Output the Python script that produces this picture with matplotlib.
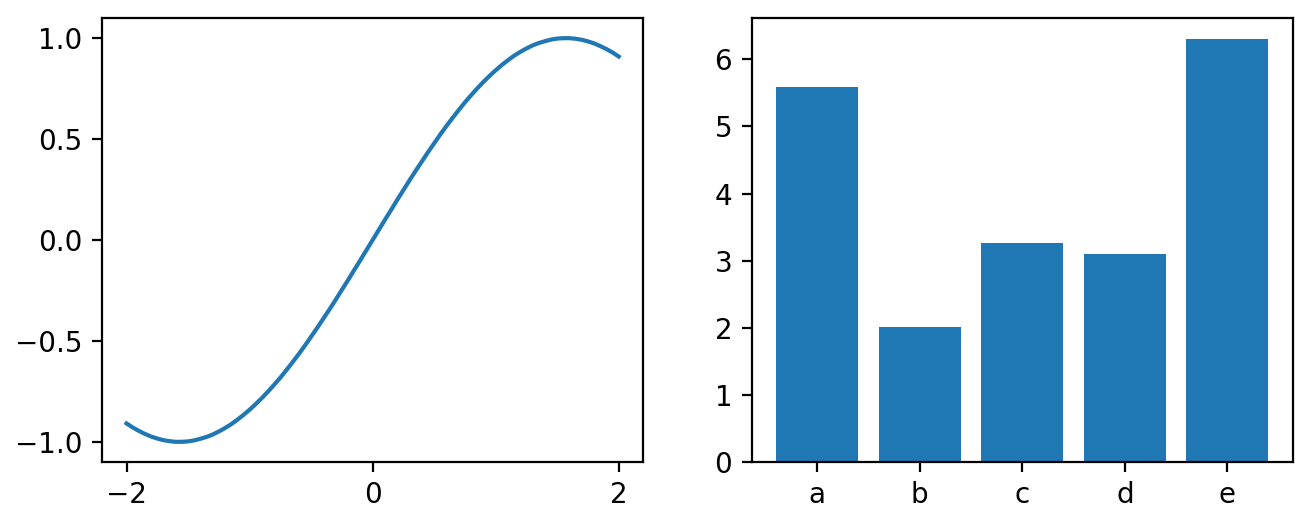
import matplotlib
matplotlib.use("Agg")
import matplotlib.pyplot as plt

# Left panel: curve values (positive half, mirrored for negative x)
x_pos = [0.0, 0.05, 0.1, 0.15, 0.2, 0.25, 0.3, 0.35, 0.4, 0.45, 0.5,
         0.55, 0.6, 0.65, 0.7, 0.75, 0.8, 0.85, 0.9, 0.95, 1.0,
         1.05, 1.1, 1.15, 1.2, 1.25, 1.3, 1.35, 1.4, 1.45, 1.5,
         1.55, 1.6, 1.65, 1.7, 1.75, 1.8, 1.85, 1.9, 1.95, 2.0]
y_pos = [0.000, 0.050, 0.100, 0.149, 0.199, 0.247, 0.296, 0.343, 0.389, 0.435, 0.479,
         0.523, 0.565, 0.605, 0.644, 0.682, 0.717, 0.751, 0.783, 0.813, 0.841,
         0.867, 0.891, 0.913, 0.932, 0.949, 0.964, 0.976, 0.985, 0.993, 0.998,
         1.000, 1.000, 0.997, 0.992, 0.984, 0.974, 0.961, 0.946, 0.929, 0.909]

# Right panel: bars
categories = ["a", "b", "c", "d", "e"]
bar_values = [5.58, 2.01, 3.27, 3.10, 6.30]

x_vals = [-v for v in reversed(x_pos[1:])] + x_pos
y_vals = [-v for v in reversed(y_pos[1:])] + y_pos

fig, (ax1, ax2) = plt.subplots(1, 2, figsize=(6.56, 2.63), dpi=200)
fig.subplots_adjust(left=0.0777, right=0.9855, bottom=0.1217, top=0.9658, wspace=0.2)

ax1.plot(x_vals, y_vals, color="#1f77b4")
ax1.set_xticks([-2, 0, 2])
ax1.set_yticks([-1.0, -0.5, 0.0, 0.5, 1.0])

ax2.bar(categories, bar_values, color="#1f77b4")

fig.savefig("out.png", dpi=200)
